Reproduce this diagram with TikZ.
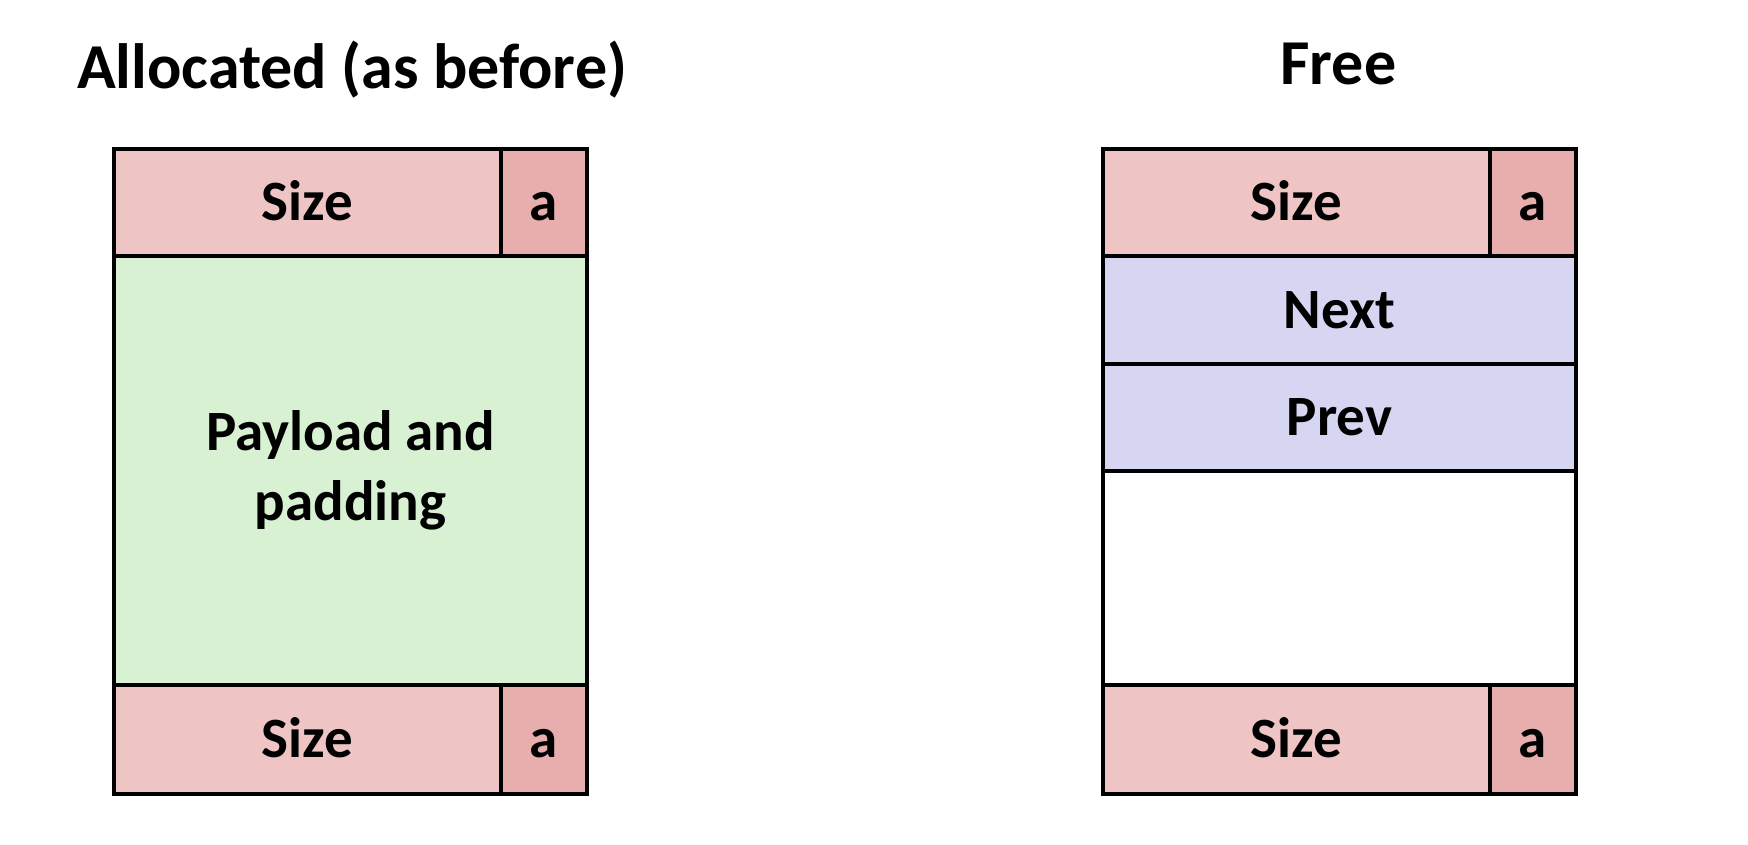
\documentclass[tikz,border=0pt]{standalone}
\usepackage{fontspec}
\setmainfont{Carlito}
\definecolor{sizepink}{RGB}{238,196,197}
\definecolor{apink}{RGB}{232,173,173}
\definecolor{paygreen}{RGB}{215,241,210}
\definecolor{linkblue}{RGB}{215,214,242}
\begin{document}
\begin{tikzpicture}[x=1pt,y=-1pt,
  cell/.style={draw=black, line width=4pt, inner sep=0pt, outer sep=0pt,
    font=\fontsize{57}{70}\selectfont\bfseries, text height=36pt, text depth=0pt},
  sizecell/.style={cell, fill=sizepink, minimum width=387pt},
  acell/.style={cell, fill=apink, minimum width=86pt},
  widecell/.style={cell, minimum width=473pt},
  title/.style={font=\fontsize{64}{70}\selectfont\bfseries, anchor=base, inner sep=0pt}]
\useasboundingbox (0,0) rectangle (1748,844);
% titles
\node[title] (tAlloc) at (352,88) {Allocated (as before)};
\node[title] (tFree) at (1338.5,84) {Free};
% allocated block
\node[widecell, fill=paygreen, minimum height=429pt, text height=, text depth=, align=center] (pay) at (350.5,470.5) {Payload and\\padding};
\node[sizecell, minimum height=107pt] (lSizeTop) at (307.5,202.5) {Size};
\node[acell, minimum height=107pt] (lATop) at (544,202.5) {a};
\node[sizecell, minimum height=109pt] (lSizeBot) at (307.5,739.5) {Size};
\node[acell, minimum height=109pt] (lABot) at (544,739.5) {a};
% free block
\node[widecell, fill=white, minimum height=214pt] (empty) at (1339.5,578) {};
\node[widecell, fill=linkblue, minimum height=108pt] (next) at (1339.5,310) {Next};
\node[widecell, fill=linkblue, minimum height=107pt] (prev) at (1339.5,417.5) {Prev};
\node[sizecell, minimum height=107pt] (rSizeTop) at (1296.5,202.5) {Size};
\node[acell, minimum height=107pt] (rATop) at (1533,202.5) {a};
\node[sizecell, minimum height=109pt] (rSizeBot) at (1296.5,739.5) {Size};
\node[acell, minimum height=109pt] (rABot) at (1533,739.5) {a};
\end{tikzpicture}
\end{document}
